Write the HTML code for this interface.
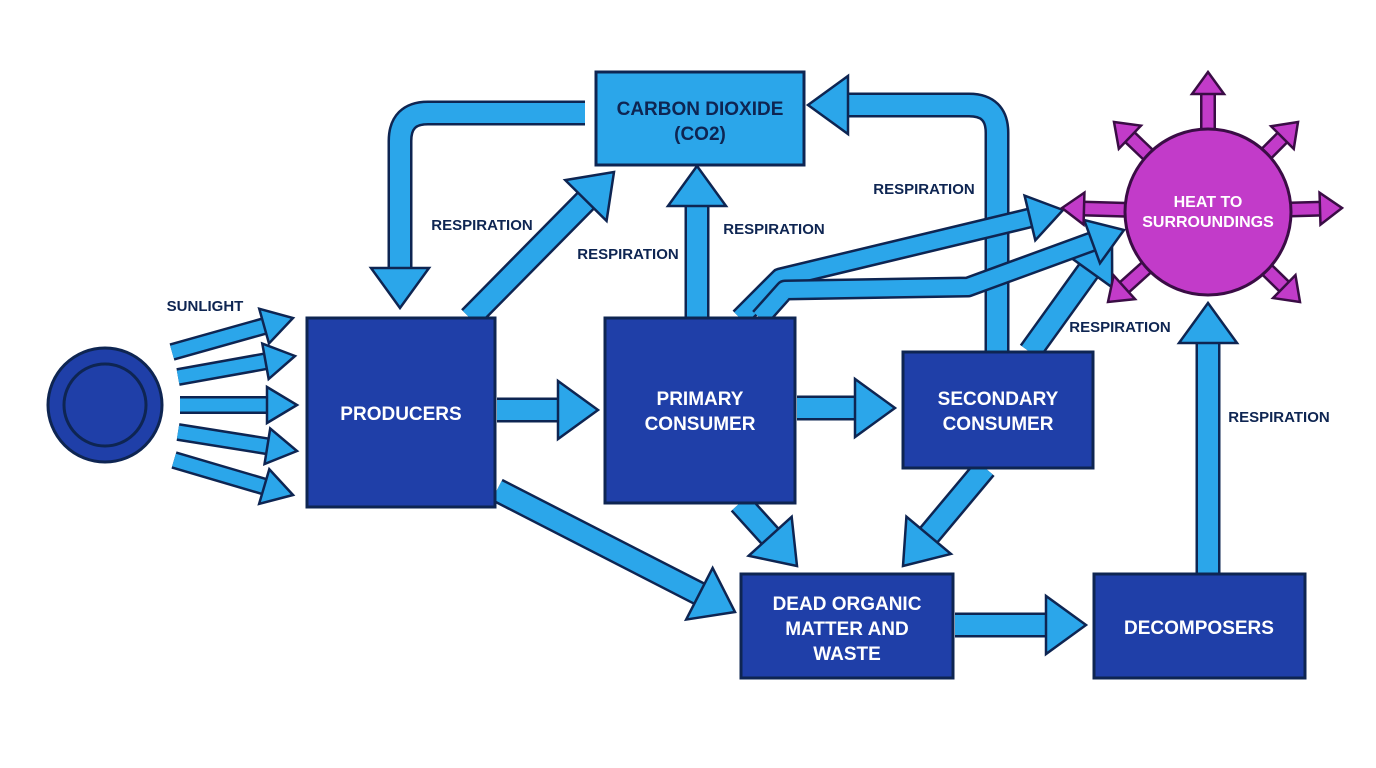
<!DOCTYPE html>
<html><head><meta charset="utf-8"><style>
html,body{margin:0;padding:0;background:#fff}
svg{display:block}
text{font-family:"Liberation Sans",sans-serif;font-weight:bold}
</style></head><body>
<svg id="s" width="1376" height="768" viewBox="0 0 1376 768" xmlns="http://www.w3.org/2000/svg">
<g id="ar"></g>
<g id="rays"></g>
<g stroke="#0e2552" stroke-width="3">
<circle cx="105" cy="405" r="57" fill="#1f3fa8"/>
<circle cx="105" cy="405" r="41" fill="#1f3fa8"/>
<rect x="307" y="318" width="188" height="189" fill="#1f3fa8"/>
<rect x="605" y="318" width="190" height="185" fill="#1f3fa8"/>
<rect x="903" y="352" width="190" height="116" fill="#1f3fa8"/>
<rect x="596" y="72" width="208" height="93" fill="#2ba6ea"/>
<rect x="741" y="574" width="212" height="104" fill="#1f3fa8"/>
<rect x="1094" y="574" width="211" height="104" fill="#1f3fa8"/>
<circle cx="1208" cy="212" r="83" fill="#c23bc9" stroke="#3a0d45"/>
</g>
<g id="top"></g>
<g fill="#fff" font-size="19" text-anchor="middle">
<text x="401" y="420">PRODUCERS</text>
<text x="700" y="405">PRIMARY</text><text x="700" y="430">CONSUMER</text>
<text x="998" y="405">SECONDARY</text><text x="998" y="430">CONSUMER</text>
<text x="847" y="610">DEAD ORGANIC</text><text x="847" y="635">MATTER AND</text><text x="847" y="660">WASTE</text>
<text x="1199" y="634">DECOMPOSERS</text>
<text x="1208" y="207" font-size="16">HEAT TO</text><text x="1208" y="227" font-size="16">SURROUNDINGS</text>
</g>
<g fill="#0e2552" font-size="19" text-anchor="middle">
<text x="700" y="115">CARBON DIOXIDE</text>
<text x="700" y="140">(CO2)</text>
</g>
<g fill="#0e2552" font-size="15" text-anchor="middle">
<text x="205" y="311">SUNLIGHT</text>
<text x="482" y="230">RESPIRATION</text>
<text x="628" y="259">RESPIRATION</text>
<text x="774" y="234">RESPIRATION</text>
<text x="924" y="194">RESPIRATION</text>
<text x="1120" y="332">RESPIRATION</text>
<text x="1279" y="422">RESPIRATION</text>
</g>
</svg>
<script>
var NS="http://www.w3.org/2000/svg";
function el(g,n,a){var e=document.createElementNS(NS,n);for(var k in a)e.setAttribute(k,a[k]);document.getElementById(g).appendChild(e);return e;}
function arrow(g,pts,w,hw,hl,fill,dark,r){
  var n=pts.length,t=pts[n-1],p=pts[n-2];
  var dx=t[0]-p[0],dy=t[1]-p[1],L=Math.hypot(dx,dy);dx/=L;dy/=L;
  var b=[t[0]-dx*hl,t[1]-dy*hl];
  var q=pts.slice(0,n-1).concat([[b[0]+dx*2,b[1]+dy*2]]);
  var d="M"+q[0][0]+","+q[0][1];
  for(var i=1;i<q.length;i++){
    if(r&&i<q.length-1){
      var a=q[i-1],c=q[i],e=q[i+1];
      var l1=Math.hypot(c[0]-a[0],c[1]-a[1]),l2=Math.hypot(e[0]-c[0],e[1]-c[1]);
      var rr=Math.min(r,l1/2,l2/2);
      var s=[c[0]-(c[0]-a[0])/l1*rr,c[1]-(c[1]-a[1])/l1*rr];
      var f=[c[0]+(e[0]-c[0])/l2*rr,c[1]+(e[1]-c[1])/l2*rr];
      d+=" L"+s[0]+","+s[1]+" Q"+c[0]+","+c[1]+" "+f[0]+","+f[1];
    } else d+=" L"+q[i][0]+","+q[i][1];
  }
  el(g,"path",{d:d,fill:"none",stroke:dark,"stroke-width":w+5,"stroke-linejoin":"round"});
  el(g,"path",{d:d,fill:"none",stroke:fill,"stroke-width":w,"stroke-linejoin":"round"});
  var nx=-dy,ny=dx,h=hw/2;
  el(g,"polygon",{points:[t,[b[0]+nx*h,b[1]+ny*h],[b[0]-nx*h,b[1]-ny*h]].map(function(v){return v.join(",")}).join(" "),
    fill:fill,stroke:dark,"stroke-width":2.5,"stroke-linejoin":"miter"});
}
var B="#2ba6ea",D="#0e2552";
// sunlight
[[[172,352],[293,318]],[[178,377],[295,356]],[[180,405],[297,405]],[[178,432],[297,451]],[[174,460],[293,495]]]
 .forEach(function(p){arrow("ar",p,13,36,30,B,D);});
var big=[
 [[585,113],[400,113],[400,308]],
 [[470,318],[614,172]],
 [[697,318],[697,166]],
 [[997,352],[997,105],[808,105]],
 [[497,410],[598,410]],
 [[797,408],[895,408]],
 [[497,490],[735,612]],
 [[740,503],[797,566]],
 [[985,468],[903,566]],
 [[955,625],[1086,625]],
 [[1208,574],[1208,303]],
 [[1030,352],[1112,238]]
];
big.forEach(function(p){arrow("ar",p,20,58,40,B,D,28);});
arrow("ar",[[740,318],[780,278],[1063,210]],16,46,34,B,D);
arrow("ar",[[760,318],[785,290],[968,287],[1124,230]],16,46,34,B,D);
// rays
var M="#c23bc9",MD="#3a0d45";
[[1208,72],[1342,208],[1062,208],[1298,122],[1114,122],[1300,302],[1108,302]].forEach(function(t){
  var dx=t[0]-1208,dy=t[1]-212,L=Math.hypot(dx,dy);
  var s=[1208+dx/L*78,212+dy/L*78];
  arrow("rays",[s,t],11,32,22,M,MD);
});
</script>
</body></html>
